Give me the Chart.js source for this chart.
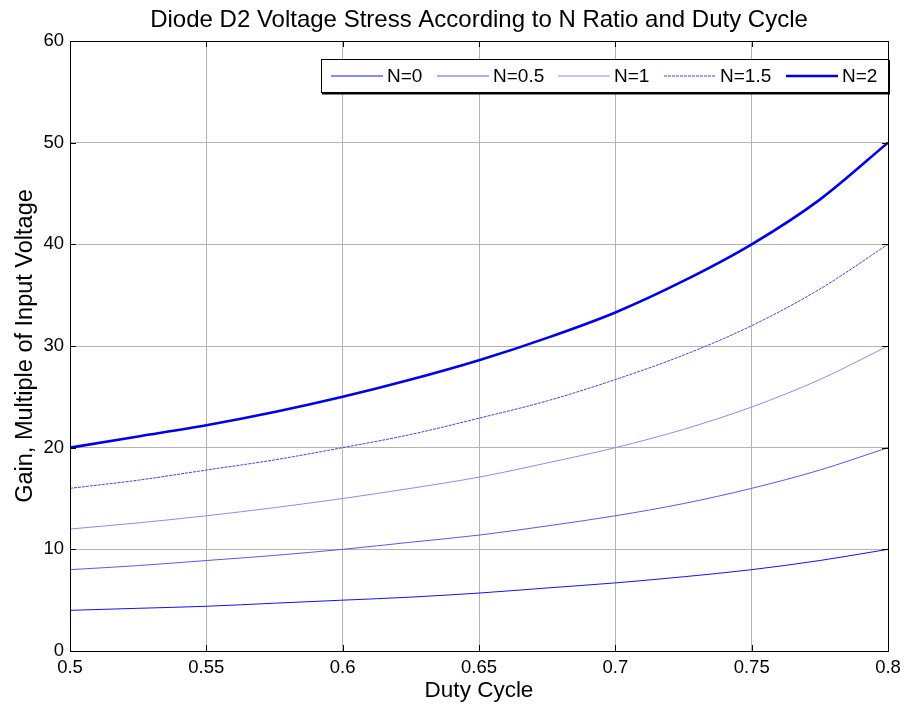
<!DOCTYPE html>
<html>
<head>
<meta charset="utf-8">
<script src="https://cdn.jsdelivr.net/npm/chart.js@4"></script>
<style>
  html, body { margin: 0; padding: 0; background: #fff; }
  #wrap { width: 904px; height: 708px; }
</style>
</head>
<body>
<div id="wrap"><canvas id="stressChart" width="904" height="708"></canvas></div>
<script>
// duty cycle samples and gain
const duty = [0.5, 0.525, 0.55, 0.575, 0.6, 0.625, 0.65, 0.675, 0.7, 0.725, 0.75, 0.775, 0.8];
const gainN0   = [4, 4.2, 4.4, 4.7, 5, 5.3, 5.7, 6.2, 6.7, 7.3, 8, 8.9, 10];
const gainN05  = [8, 8.4, 8.9, 9.4, 10, 10.7, 11.4, 12.3, 13.3, 14.5, 16, 17.8, 20];
const gainN1   = [12, 12.6, 13.3, 14.1, 15, 16, 17.1, 18.5, 20, 21.8, 24, 26.7, 30];
const gainN15  = [16, 16.8, 17.8, 18.8, 20, 21.3, 22.9, 24.6, 26.7, 29.1, 32, 35.6, 40];
const gainN2   = [20, 21.1, 22.2, 23.5, 25, 26.7, 28.6, 30.8, 33.3, 36.4, 40, 44.4, 50];
const seriesLabels = ['N=0', 'N=0.5', 'N=1', 'N=1.5', 'N=2'];
const xTicks = [0.5, 0.55, 0.6, 0.65, 0.7, 0.75, 0.8];
const yTicks = [0, 10, 20, 30, 40, 50, 60];

const FONT = '"Liberation Sans", Arial, sans-serif';

function pts(ys) {
    return duty.map((d, i) => ({ x: d, y: ys[i] }));
}

const styles = [
    { color: '#1010ff', width: 1 },
    { color: '#5656ff', width: 1 },
    { color: '#8a8aff', width: 1 },
    { color: '#4040ff', width: 1, dash: [3, 1] },
    { color: '#0000f0', width: 2.6 }
];
const allGains = [gainN0, gainN05, gainN1, gainN15, gainN2];

// title, frame, inward ticks and boxed legend like the matlab figure
const matlabLook = {
    id: 'matlabLook',
    afterDraw(chart) {
        const ctx = chart.ctx;
        const a = chart.chartArea;
        const xs = chart.scales.x, ys = chart.scales.y;
        ctx.save();

        ctx.strokeStyle = '#000';
        ctx.lineWidth = 1;
        ctx.beginPath();
        xTicks.forEach(v => {
            const px = Math.round(xs.getPixelForValue(v)) + 0.5;
            ctx.moveTo(px, a.bottom); ctx.lineTo(px, a.bottom - 6);
            ctx.moveTo(px, a.top); ctx.lineTo(px, a.top + 6);
        });
        yTicks.forEach(v => {
            const py = Math.round(ys.getPixelForValue(v)) + 0.5;
            ctx.moveTo(a.left, py); ctx.lineTo(a.left + 6, py);
            ctx.moveTo(a.right, py); ctx.lineTo(a.right - 6, py);
        });
        ctx.stroke();
        ctx.strokeRect(Math.round(a.left) + 0.5, Math.round(a.top) + 0.5,
                       Math.round(a.right - a.left), Math.round(a.bottom - a.top));

        ctx.fillStyle = '#000';
        ctx.font = '24px ' + FONT;
        ctx.textAlign = 'center';
        ctx.textBaseline = 'middle';
        ctx.fillText('Diode D2 Voltage Stress According to N Ratio and Duty Cycle', (a.left + a.right) / 2, 20);

        // legend box
        const bx = 321, by = 59, bw = 567, bh = 33;
        ctx.fillStyle = '#fff';
        ctx.fillRect(bx, by, bw, bh);
        ctx.strokeStyle = '#000';
        ctx.lineWidth = 1;
        ctx.strokeRect(bx + 0.5, by + 0.5, bw, bh);
        ctx.lineWidth = 2;
        ctx.beginPath();
        ctx.moveTo(bx + bw + 1, by + 1); ctx.lineTo(bx + bw + 1, by + bh + 1.5);
        ctx.lineTo(bx + 1, by + bh + 1.5);
        ctx.stroke();

        const lineStarts = [331, 437, 558, 664, 786];
        ctx.font = '19px ' + FONT;
        ctx.textAlign = 'left';
        chart.data.datasets.forEach((ds, i) => {
            const ly = by + bh / 2 + 0.5;
            ctx.strokeStyle = ds.borderColor;
            ctx.lineWidth = ds.borderWidth;
            ctx.setLineDash(ds.borderDash || []);
            ctx.beginPath();
            ctx.moveTo(lineStarts[i], ly);
            ctx.lineTo(lineStarts[i] + 52, ly);
            ctx.stroke();
            ctx.setLineDash([]);
            ctx.fillStyle = '#000';
            ctx.fillText(ds.label, lineStarts[i] + 56, ly + 1);
        });
        ctx.restore();
    }
};

new Chart(document.getElementById('stressChart'), {
    type: 'line',
    data: {
        datasets: seriesLabels.map((lab, i) => ({
            label: lab,
            data: pts(allGains[i]),
            borderColor: styles[i].color,
            borderWidth: styles[i].width,
            borderDash: styles[i].dash || [],
            pointRadius: 0,
            fill: false,
            tension: 0.4,
            cubicInterpolationMode: 'monotone'
        }))
    },
    options: {
        responsive: false,
        animation: false,
        layout: { padding: { left: 0, right: 16, top: 41, bottom: 0 } },
        plugins: {
            legend: { display: false },
            title: { display: false },
            tooltip: { enabled: false }
        },
        scales: {
            x: {
                type: 'linear',
                min: 0.5,
                max: 0.8,
                afterFit(scale) {
                    scale.height = 57;
                    scale.paddingLeft = 0;
                    scale.paddingRight = 0;
                },
                afterBuildTicks(scale) { scale.ticks = xTicks.map(v => ({ value: v })); },
                grid: { color: '#b4b4b4', lineWidth: 1, drawTicks: false },
                border: { display: false },
                ticks: {
                    color: '#000',
                    font: { family: FONT, size: 18.5 },
                    padding: 6,
                    maxRotation: 0,
                    callback: v => String(v)
                },
                title: {
                    display: true,
                    text: 'Duty Cycle',
                    color: '#000',
                    font: { family: FONT, size: 22.5 },
                    padding: 4
                }
            },
            y: {
                min: 0,
                max: 60,
                afterFit(scale) {
                    scale.width = 70;
                    scale.paddingTop = 0;
                    scale.paddingBottom = 0;
                },
                afterBuildTicks(scale) { scale.ticks = yTicks.map(v => ({ value: v })); },
                grid: { color: '#b4b4b4', lineWidth: 1, drawTicks: false },
                border: { display: false },
                ticks: {
                    color: '#000',
                    font: { family: FONT, size: 18.5 },
                    padding: 6
                },
                title: {
                    display: true,
                    text: 'Gain, Multiple of Input Voltage',
                    color: '#000',
                    font: { family: FONT, size: 23.5 },
                    padding: 11
                }
            }
        }
    },
    plugins: [matlabLook]
});
</script>
</body>
</html>
